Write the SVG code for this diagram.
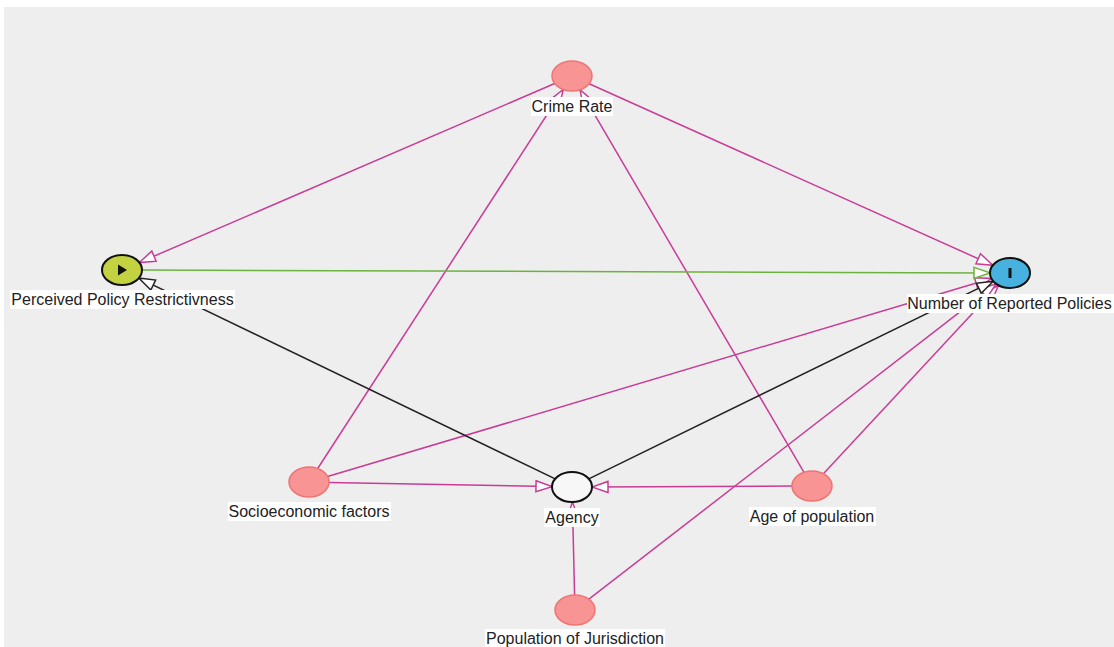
<svg xmlns="http://www.w3.org/2000/svg" width="1114" height="647" viewBox="0 0 1114 647">
<style>
.e{fill:none;stroke-width:1.5}
.p{stroke:#c93c96}
.g{stroke:#6cb33e}
.k{stroke:#222}
.lbl{font-family:"Liberation Sans",Arial,sans-serif;font-size:16px;fill:#222;text-anchor:middle}
.lb{fill:#fff}
.pn{fill:#f89494;stroke:#ee7474;stroke-width:1.5}
</style>
<defs>
<marker id="mp" viewBox="-2 -2 20 15" refX="16" refY="5.5" markerWidth="20" markerHeight="15" markerUnits="userSpaceOnUse" orient="auto"><path d="M0,0 L16,5.5 L0,11 Z" fill="#fff" stroke="#c93c96" stroke-width="1.5"/></marker>
<marker id="mg" viewBox="-2 -2 20 15" refX="16" refY="5.5" markerWidth="20" markerHeight="15" markerUnits="userSpaceOnUse" orient="auto"><path d="M0,0 L16,5.5 L0,11 Z" fill="#fff" stroke="#6cb33e" stroke-width="1.5"/></marker>
<marker id="mk" viewBox="-2 -2 20 15" refX="16" refY="5.5" markerWidth="20" markerHeight="15" markerUnits="userSpaceOnUse" orient="auto"><path d="M0,0 L16,5.5 L0,11 Z" fill="#fff" stroke="#222" stroke-width="1.5"/></marker>
</defs>
<rect x="0" y="0" width="1114" height="647" fill="#fff"/>
<rect x="4" y="7" width="1110" height="640" fill="#eeeeee"/>
<g id="connectors">
<line class="e p" x1="554.7" y1="83.5" x2="139.3" y2="262.5" marker-end="url(#mp)"/>
<line class="e p" x1="589.2" y1="83.7" x2="992.8" y2="265.3" marker-end="url(#mp)"/>
<line class="e p" x1="317.7" y1="468.5" x2="563.3" y2="89.5" marker-end="url(#mp)"/>
<line class="e p" x1="804" y1="472.3" x2="580" y2="89.7" marker-end="url(#mp)"/>
<line class="e p" x1="329" y1="482.4" x2="552" y2="486.6" marker-end="url(#mp)"/>
<line class="e p" x1="792" y1="486" x2="592" y2="487" marker-end="url(#mp)"/>
<line class="e p" x1="327.6" y1="476.5" x2="991.4" y2="278.5" marker-end="url(#mp)"/>
<line class="e p" x1="823.4" y1="473.7" x2="998.6" y2="285.3" marker-end="url(#mp)"/>
<line class="e p" x1="588.9" y1="599.2" x2="996.1" y2="283.8" marker-end="url(#mp)"/>
<line class="e p" x1="574.6" y1="595" x2="572.4" y2="502" marker-end="url(#mp)"/>
<line class="e g" x1="142" y1="270.1" x2="990" y2="272.9" marker-end="url(#mg)"/>
<line class="e k" x1="555.2" y1="478.9" x2="138.8" y2="278.1" marker-end="url(#mk)"/>
<line class="e k" x1="588.8" y1="478.8" x2="993.2" y2="281.2" marker-end="url(#mk)"/>
</g>
<g id="node-crime-rate">
<ellipse class="pn" cx="572" cy="76" rx="20" ry="15"/>
<rect class="lb" x="531" y="97" width="82" height="19"/>
<text class="lbl" x="572" y="112">Crime Rate</text>
</g>
<g id="node-perceived">
<ellipse cx="122" cy="270" rx="20" ry="15" fill="#c3d240" stroke="#111" stroke-width="2"/>
<path d="M118,264.5 L127,270 L118,275.5 Z" fill="#111"/>
<rect class="lb" x="10" y="290" width="225" height="19"/>
<text class="lbl" x="122.5" y="305">Perceived Policy Restrictivness</text>
</g>
<g id="node-number">
<ellipse cx="1010" cy="273" rx="20" ry="15" fill="#47b2e0" stroke="#111" stroke-width="2"/>
<rect x="1008.5" y="268" width="3" height="10" fill="#111"/>
<rect class="lb" x="907" y="294" width="207" height="19"/>
<text class="lbl" x="1009.5" y="309">Number of Reported Policies</text>
</g>
<g id="node-socioeconomic">
<ellipse class="pn" cx="309" cy="482" rx="20" ry="15"/>
<rect class="lb" x="228" y="502" width="163" height="19"/>
<text class="lbl" x="309" y="517">Socioeconomic factors</text>
</g>
<g id="node-agency">
<ellipse cx="572" cy="487" rx="20" ry="15" fill="#f7f7f7" stroke="#111" stroke-width="2"/>
<rect class="lb" x="544" y="508" width="56" height="19"/>
<text class="lbl" x="572" y="523">Agency</text>
</g>
<g id="node-age">
<ellipse class="pn" cx="812" cy="486" rx="20" ry="15"/>
<rect class="lb" x="749" y="507" width="127" height="19"/>
<text class="lbl" x="812" y="522">Age of population</text>
</g>
<g id="node-population">
<ellipse class="pn" cx="575" cy="610" rx="20" ry="15"/>
<rect class="lb" x="485" y="629" width="180" height="19"/>
<text class="lbl" x="575" y="644">Population of Jurisdiction</text>
</g>
</svg>
